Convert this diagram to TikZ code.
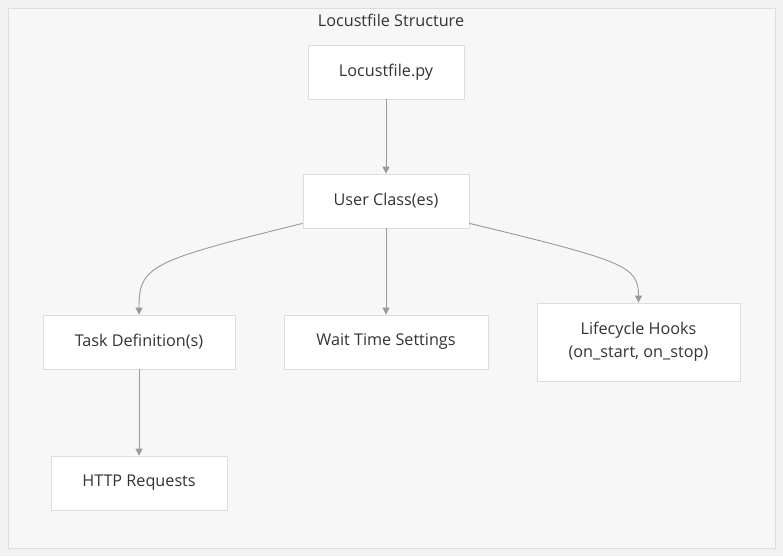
\documentclass[tikz,border=0pt]{standalone}
\usepackage{fontspec}
\setmainfont{Open Sans}
\usepackage{tikz}
\usetikzlibrary{arrows.meta}
\definecolor{pagebg}{HTML}{F2F2F2}
\definecolor{clusterbg}{HTML}{F7F7F7}
\definecolor{boxline}{HTML}{DDDDDD}
\definecolor{edgegray}{HTML}{999999}
\definecolor{textgray}{HTML}{333333}

\begin{document}
\begin{tikzpicture}[x=1pt, y=1pt,
    box/.style={draw=boxline, fill=white, line width=0.8pt, text=textgray,
      font=\fontsize{16.2}{23}\selectfont, align=center, inner sep=0pt},
    edge/.style={draw=edgegray, line width=0.9pt,
      -{Triangle[length=7pt, width=7pt]}}]
    \useasboundingbox (0, 0) rectangle (783, 556);
    \fill[pagebg] (0, 0) rectangle (783, 556);
    \draw[boxline, fill=clusterbg, line width=0.8pt] (8, 8) rectangle (775, 548);
    \node[text=textgray, font=\fontsize{16.2}{19}\selectfont] (title) at (391, 536) {Locustfile Structure};

    \node[box, minimum width=156, minimum height=54] (lf) at (386, 484) {Locustfile.py};
    \node[box, minimum width=166, minimum height=54] (uc) at (386, 355) {User Class(es)};

    \node[box, minimum width=192, minimum height=54] (task) at (139, 214) {Task Definition(s)};
    \node[box, minimum width=204, minimum height=54] (wait) at (386, 214) {Wait Time Settings};
    \node[box, minimum width=203, minimum height=78] (hooks) at (638.5, 214) {Lifecycle Hooks\\(on\_start, on\_stop)};

    \node[box, minimum width=176, minimum height=54] (http) at (139, 73) {HTTP Requests};

  \draw[edge] (lf) -- (uc);
  \draw[edge] (uc) -- (wait);
  \draw[edge] (task) -- (http);

  \draw[edge] ([yshift=5]uc.south west) .. controls (150, 295) and (139, 290) .. (task.north);
  \draw[edge] ([yshift=5]uc.south east) .. controls (625, 295) and (638.5, 290) .. (hooks.north);
 \end{tikzpicture}
\end{document}
